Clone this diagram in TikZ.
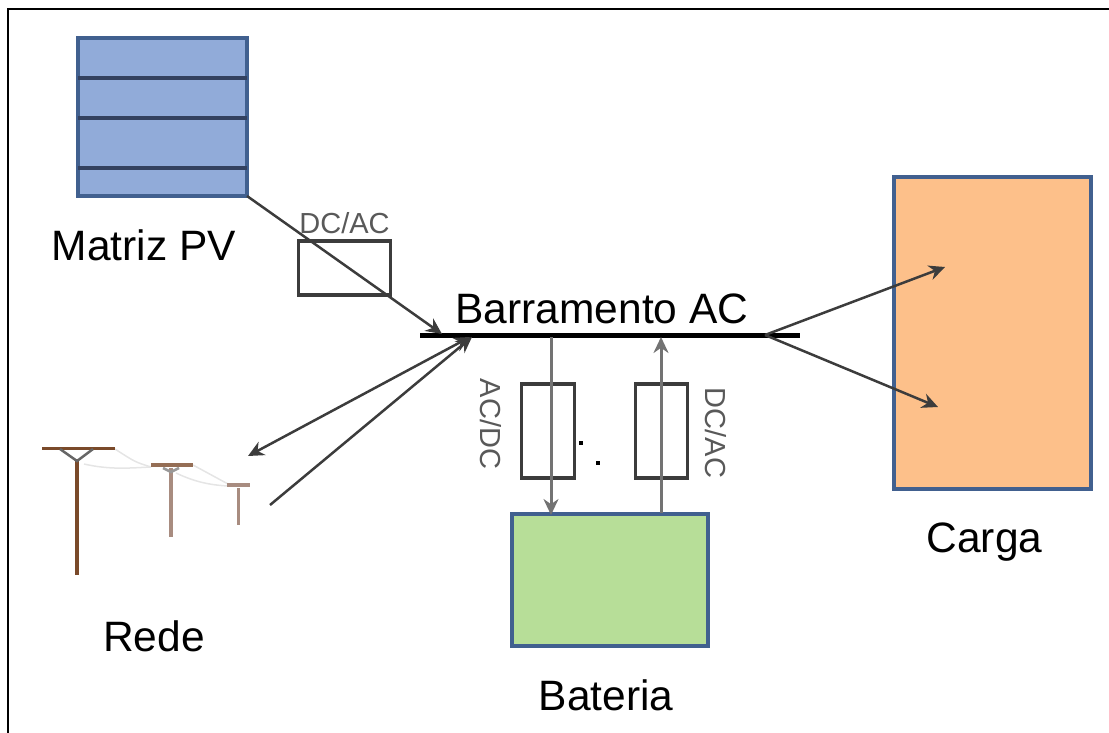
\documentclass[tikz,border=0pt]{standalone}
\usepackage{fontspec}
\setmainfont{Liberation Sans}
\usepackage{xcolor}
\definecolor{contorno}{HTML}{41608F}
\definecolor{azulpv}{HTML}{91ABD9}
\definecolor{laranja}{HTML}{FDC08A}
\definecolor{verde}{HTML}{B7DE98}
\definecolor{cinza}{HTML}{3C3C3C}
\definecolor{madeira}{HTML}{7A4A2A}
\definecolor{madeiraclara}{HTML}{A88C80}
\definecolor{divisao}{HTML}{33415F}
\usetikzlibrary{
  arrows.meta,
  positioning,
  calc
}

\begin{document}
\begin{tikzpicture}[
  x=1pt, y=-1pt,
  painel/.style={rectangle, draw=contorno, line width=3.5pt, outer sep=0pt, inner sep=0pt},
  conv/.style={rectangle, draw=cinza, line width=3.5pt, outer sep=0pt, inner sep=0pt},
  rotulo/.style={font=\fontsize{42.5}{48}\selectfont, inner sep=0pt, text=black},
  mini/.style={font=\fontsize{29}{34}\selectfont, inner sep=0pt, text=black!65},
  arr/.style={-{Stealth[length=16pt, width=15pt]}, line width=2.5pt, cinza},
  darr/.style={{Stealth[length=16pt, width=15pt]}-{Stealth[length=16pt, width=15pt]}, line width=2.5pt, cinza},
  poste/.style={line width=3pt, madeira},
  postec/.style={line width=3pt, madeiraclara},
  fio/.style={line width=1.5pt, black!10},
]
\useasboundingbox (0,0) rectangle (1109,733);

% Moldura
\draw[line width=2.5pt, black] (8,733) -- (8,9) -- (1109,9);

% Nodos principais
\node[painel, fill=azulpv, minimum width=169pt, minimum height=158pt] (pv) at (162.5,117) {};
\node[painel, fill=laranja, minimum width=197pt, minimum height=312pt] (carga) at (992.5,333) {};
\node[painel, fill=verde, minimum width=196pt, minimum height=132pt] (bateria) at (610,580) {};
\node[fill=black, minimum width=380pt, minimum height=5pt, inner sep=0pt, outer sep=0pt] (barra) at (610,335) {};

% Divisoes da matriz
\draw[line width=3.5pt, divisao] (pv.west |- 0,78) -- (pv.east |- 0,78);
\draw[line width=3.5pt, divisao] (pv.west |- 0,118) -- (pv.east |- 0,118);
\draw[line width=3.5pt, divisao] (pv.west |- 0,168) -- (pv.east |- 0,168);

% Conversores
\node[conv, minimum width=92pt, minimum height=54pt] (dcac1) at (344.5,268) {};
\node[conv, minimum width=53pt, minimum height=94pt] (acdc) at (548,431) {};
\node[conv, minimum width=52pt, minimum height=94pt] (dcac2) at (661.5,431) {};

% Rotulos
\node[rotulo] (lpv) at (144,245) {Matriz PV};
\node[rotulo, above=8pt of barra, xshift=-8pt] (lbarra) {Barramento AC};
\node[rotulo, below=33pt of bateria, xshift=-4pt] (lbateria) {Bateria};
\node[rotulo, below=34pt of carga, xshift=-8pt] (lcarga) {Carga};
\node[rotulo] (lrede) at (154,636) {Rede};
\node[mini, above=7pt of dcac1] (l1) {DC/AC};
\node[mini, rotate=-90] (l2) at (491,424) {AC/DC};
\node[mini, rotate=-90] (l3) at (716,433) {DC/AC};

% Pontos soltos
\node[fill=black, minimum size=4pt, inner sep=0pt] (p1) at (581,443) {};
\node[fill=black, minimum size=4pt, inner sep=0pt] (p2) at (598,463) {};

% Rede
\draw[fio] (115,449) .. controls (135,462) .. (151,467);
\draw[fio] (84,464) .. controls (110,470) and (130,468) .. (151,467);
\draw[fio] (193,465) .. controls (210,475) .. (228,484);
\draw[fio] (176,473) .. controls (195,482) and (210,485) .. (228,486);
\draw[poste, line width=4pt] (77,459) -- (77,575);
\draw[poste] (42,448) -- (115,448);
\draw[line width=2.5pt, black!60] (60,449) -- (77,461) -- (93,449);
\draw[postec, line width=4pt] (171,468) -- (171,537);
\draw[line width=4pt, madeira!80!white] (151,465) -- (193,465);
\draw[line width=2.5pt, black!40] (163,468) -- (171,472) -- (179,468);
\draw[line width=3pt, madeiraclara] (238,488) -- (238,525);
\draw[line width=4pt, madeiraclara] (227,485) -- (250,485);

% Pontos de ligacao
\coordinate (e1) at (442,334);
\coordinate (e2) at (470,337);
\coordinate (e3) at (472,337);
\coordinate (r1) at (248,456);
\coordinate (r2) at (270,505);
\coordinate (s1) at (765,335);
\coordinate (c1) at (945,267);
\coordinate (c2) at (938,407);
\coordinate (d1) at (551,337);
\coordinate (d2) at (551,515);
\coordinate (u1) at (661,513);
\coordinate (u2) at (661,337);

% Flechas
\draw[arr] (pv.south east) -- (e1);
\draw[darr] (e2) -- (r1);
\draw[arr] (r2) -- (e3);
\draw[arr] (s1) -- (c1);
\draw[arr] (s1) -- (c2);
\draw[arr, black!55, line width=3pt] (d1) -- (d2);
\draw[arr, black!55, line width=3pt] (u1) -- (u2);

\end{tikzpicture}
\end{document}
